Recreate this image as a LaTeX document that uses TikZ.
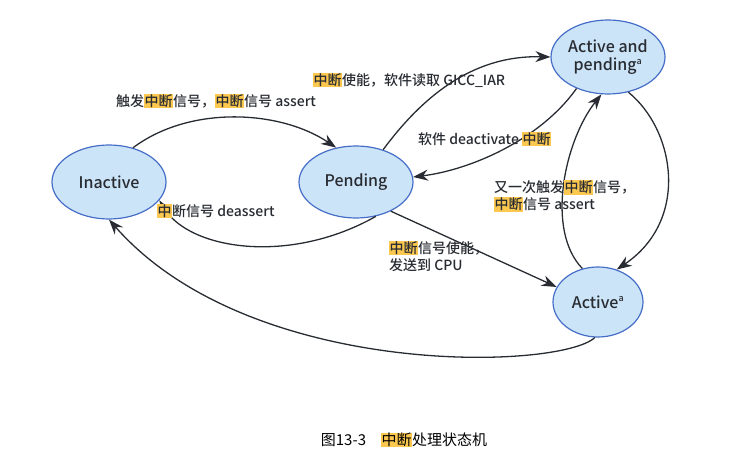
\documentclass[tikz,border=0pt]{standalone}
\usepackage{fontspec}
\setmainfont{Noto Sans CJK SC}[BoldFont={Noto Sans CJK SC Medium}]
\usetikzlibrary{shapes.geometric,arrows.meta}
\definecolor{fillb}{RGB}{204,228,247}
\definecolor{edgeb}{RGB}{70,110,200}
\definecolor{hly}{RGB}{252,200,80}
\definecolor{ink}{RGB}{40,44,50}
\newcommand{\hlz}[1]{{\setlength{\fboxsep}{0.5pt}\colorbox{hly}{#1}}}
\begin{document}
\begin{tikzpicture}[x=1pt,y=-1pt,
  st/.style={ellipse,draw=edgeb,fill=fillb,line width=1.2pt,font=\fontsize{16}{17}\selectfont\bfseries,text=ink,inner sep=0pt},
  ar/.style={-{Stealth[length=15pt,width=11pt]},line width=1.3pt,draw=ink},
  lb/.style={font=\fontsize{14}{17}\selectfont\bfseries,text=ink,inner sep=0pt,align=left}]
\useasboundingbox (0,0) rectangle (746,470);
\node[st,minimum width=114,minimum height=74] (in) at (109,182) {Inactive};
\node[st,minimum width=114,minimum height=72] (pe) at (356,182) {Pending};
\node[st,minimum width=114,minimum height=74,align=center,font=\fontsize{16}{18}\selectfont\bfseries] (ap) at (608,57) {Active and\\pending\textsuperscript{\fontsize{9}{9}\selectfont a}};
\node[st,minimum width=90,minimum height=70] (ac) at (598,302) {Active\textsuperscript{\fontsize{9}{9}\selectfont a}};
\draw[ar] (in.55) .. controls (190,105) and (280,110) .. (pe.120);
\draw[ar] (pe.-60) .. controls (290,265) and (190,250) .. (in.-20);
\draw[ar] (pe.50) .. controls (420,100) and (470,55) .. (ap.180);
\draw[ar] (ap.225) .. controls (540,140) and (470,170) .. (pe.5);
\draw[ar] (ap.-60) .. controls (675,130) and (690,220) .. (ac.60);
\draw[ar] (ac.115) .. controls (545,230) and (565,140) .. (ap.-100);
\draw[ar] (pe.-40) -- (ac.160);
\draw[ar] (ac.-95) .. controls (560,370) and (250,380) .. (in.-90);
\node[lb,anchor=west] (l1) at (116,101) {触发\hlz{中断}信号，\hlz{中断}信号 assert};
\node[lb,anchor=west] (l2) at (157,211) {\hlz{中}断信号 deassert};
\node[lb,anchor=west] (l3) at (313,80) {\hlz{中断}使能，软件读取 GICC\_IAR};
\node[lb,anchor=west] (l4) at (418,139) {软件 deactivate \hlz{中断}};
\node[lb,anchor=west] (l5) at (494,196) {又一次触发\hlz{中断}信号，\\\hlz{中断}信号 assert};
\node[lb,anchor=west] (l6) at (389,256) {\hlz{中断}信号使能，\\发送到 CPU};
\node[font=\fontsize{15}{17}\selectfont,text=black] (cap) at (404,440) {图13-3\quad \hlz{中断}处理状态机};
\end{tikzpicture}
\end{document}
